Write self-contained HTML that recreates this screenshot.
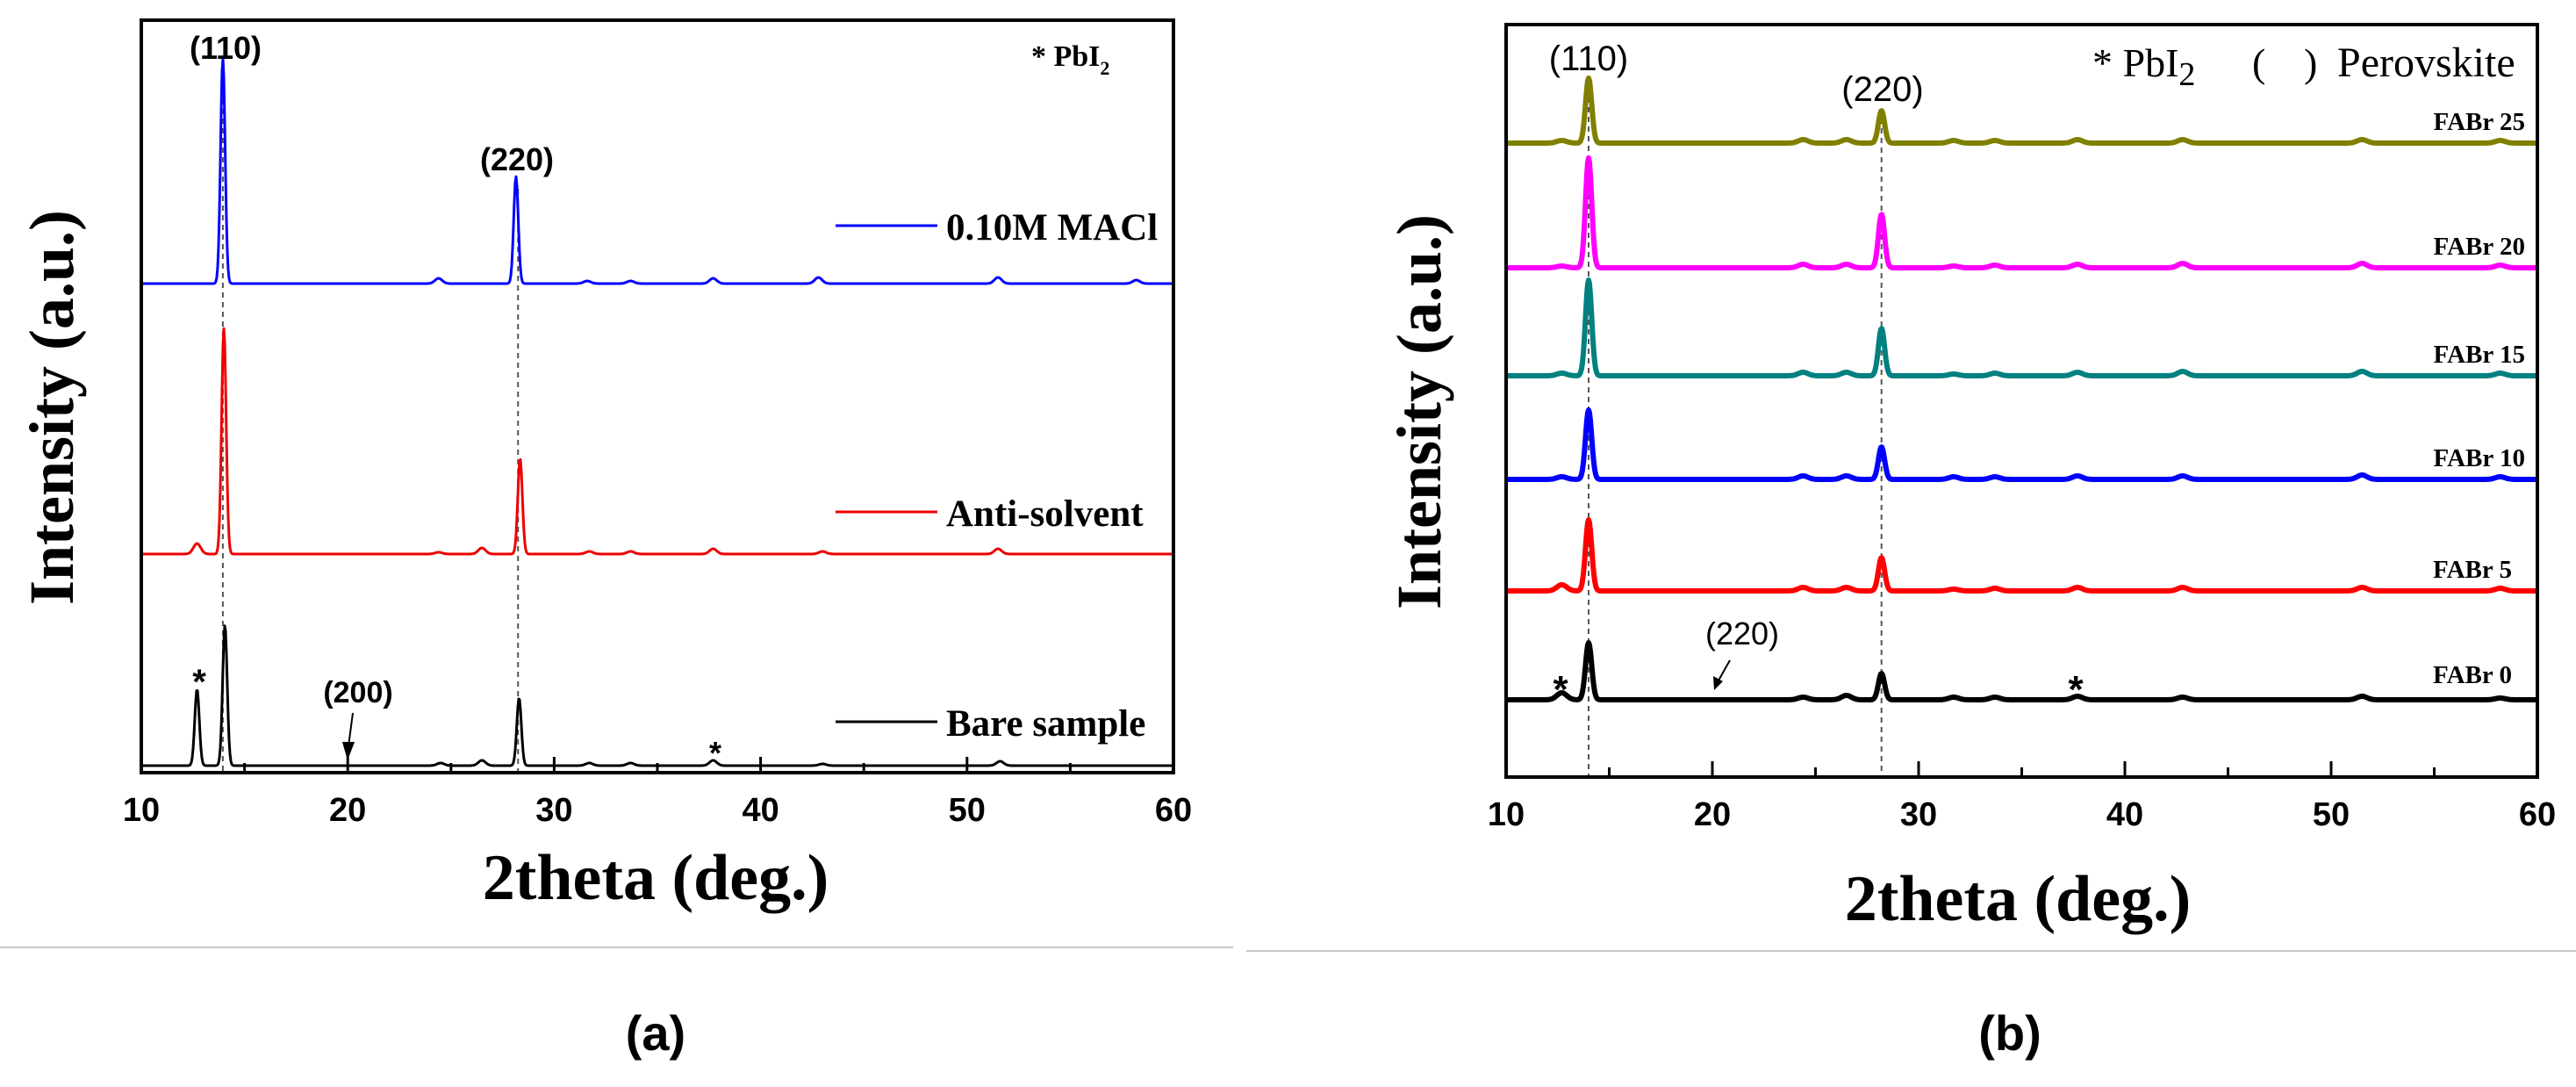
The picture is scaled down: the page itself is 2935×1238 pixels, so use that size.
<!DOCTYPE html>
<html><head><meta charset="utf-8">
<style>
html,body{margin:0;padding:0;background:#fff;}
svg{display:block;}
</style></head>
<body>
<svg id="fig" width="2935" height="1238" viewBox="0 0 2935 1238" xmlns="http://www.w3.org/2000/svg">
  <rect x="0" y="0" width="2935" height="1238" fill="#fff"/>
  <line x1="0" y1="1079" x2="1405" y2="1079" stroke="#c8c8c8" stroke-width="2"/>
  <line x1="1420" y1="1083" x2="2935" y2="1083" stroke="#c8c8c8" stroke-width="2"/>
  <g id="panelA"></g>
  <g id="panelB"></g>
  <text x="747" y="1196" text-anchor="middle" font-family="Liberation Sans, sans-serif" font-weight="bold" font-size="56">(a)</text>
  <text x="2290" y="1196" text-anchor="middle" font-family="Liberation Sans, sans-serif" font-weight="bold" font-size="56">(b)</text>
</svg>
<script>
// ---------- data ----------
const xTicks = [10, 20, 30, 40, 50, 60];
// panel (a): peak positions (deg) and heights (px above baseline)
const aNames = ["0.10M MACl", "Anti-solvent", "Bare sample"];
const aColors = ["#0000ff", "#ee0000", "#000000"];
const aOffsets = [549, 241, 0];
const aPos = [
  [13.95, 24.4, 28.15, 31.6, 33.7, 37.7, 42.8, 51.5, 58.2],
  [12.7, 14.0, 24.4, 26.5, 28.35, 31.7, 33.7, 37.7, 43.0, 51.5],
  [12.7, 14.05, 24.5, 26.5, 28.3, 31.7, 33.7, 37.7, 43.0, 51.6]
];
const aHeights = [
  [257, 6, 122, 3, 3, 6, 7, 7, 4],
  [12, 257, 2, 7, 109, 3, 3, 6, 3, 6],
  [87, 160, 3, 6, 77, 3, 3, 6, 2, 5]
];
// panel (b)
const bNames = ["FABr 25", "FABr 20", "FABr 15", "FABr 10", "FABr 5", "FABr 0"];
const bColors = ["#808000", "#ff00ff", "#008080", "#0000ff", "#ff0000", "#000000"];
const bOffsets = [634, 492, 369, 251, 124, 0];
const bPos = [12.7, 14.0, 24.4, 26.5, 28.2, 31.7, 33.7, 37.7, 42.8, 51.5, 58.2];
const bHeights = [
  [3, 74, 4, 4, 37, 3, 3, 4, 4, 4, 3],
  [2, 125, 4, 4, 61, 2, 3, 4, 5, 5, 3],
  [3, 109, 4, 4, 54, 2, 3, 4, 5, 5, 3],
  [3, 79, 4, 4, 37, 3, 3, 4, 4, 5, 3],
  [7, 81, 4, 4, 38, 2, 3, 4, 4, 4, 3],
  [8, 65, 3, 5, 30, 3, 3, 4, 3, 4, 2]
];

const NS = "http://www.w3.org/2000/svg";
function mk(parent, tag, attrs, text) {
  const e = document.createElementNS(NS, tag);
  for (const k in attrs) e.setAttribute(k, attrs[k]);
  if (text !== undefined) e.textContent = text;
  parent.appendChild(e);
  return e;
}

function drawPanel(g, P) {
  const xs = v => P.L + (v - 10) / 50 * (P.R - P.L);
  P.guides.forEach((gx, i) => {
    const ln = mk(g, "line", {x1: xs(gx), x2: xs(gx), y1: P.guideTop[i], y2: P.B, stroke: "#555", "stroke-width": 2, "stroke-dasharray": "6,5"});
    
    
  });
  P.names.forEach((nm, s) => {
    const base = P.base0 - P.offsets[s];
    const pos = P.pos[s], hts = P.heights[s];
    let d = "";
    for (let px = P.L + 2; px <= P.R - 2; px += 1) {
      const x = 10 + (px - P.L) / (P.R - P.L) * 50;
      let y = 0;
      for (let k = 0; k < pos.length; k++) {
        const sg = hts[k] > 20 ? P.sig : P.sig * 1.6;
        y += hts[k] * Math.exp(-0.5 * Math.pow((x - pos[k]) / sg, 2));
      }
      d += (d ? "L" : "M") + px + "," + (base - y).toFixed(1);
    }
    const path = mk(g, "path", {d: d, fill: "none", stroke: P.colors[s], "stroke-width": P.lw, "stroke-linejoin": "round"});
    
    
  });
  const fr = mk(g, "rect", {x: P.L, y: P.T, width: P.R - P.L, height: P.B - P.T, fill: "none", stroke: "#000", "stroke-width": 4});
  
  
  for (let v = 10; v <= 60; v += 5) {
    const major = v % 10 === 0;
    const t = mk(g, "line", {x1: xs(v), x2: xs(v), y1: P.B, y2: P.B - (major ? 18 : 11), stroke: "#000", "stroke-width": 3});
    
    
  }
  xTicks.forEach(v => {
    const t = mk(g, "text", {x: xs(v), y: P.B + 55, "text-anchor": "middle", "font-family": "Liberation Sans, sans-serif", "font-weight": "bold", "font-size": 38}, String(v));
    
    
  });
}

const A = {L: 161, R: 1337, T: 23, B: 880, base0: 872, sig: 0.11, lw: 3,
  names: aNames, colors: aColors, offsets: aOffsets, pos: aPos, heights: aHeights,
  guides: [13.95, 28.25], guideTop: [80, 215]};
const bPosAll = bNames.map(() => bPos);
const B = {L: 1716, R: 2891, T: 28, B: 885, base0: 797, sig: 0.15, lw: 6,
  names: bNames, colors: bColors, offsets: bOffsets, pos: bPosAll, heights: bHeights,
  guides: [14.0, 28.2], guideTop: [100, 135]};

drawPanel(document.getElementById("panelA"), A);
drawPanel(document.getElementById("panelB"), B);
</script>
<script>
(function(){
  const svg = document.getElementById("fig");
  const html = `
  <g>
    <text x="257" y="67" text-anchor="middle" font-family="Liberation Sans, sans-serif" font-weight="bold" font-size="36">(110)</text>
    <text x="589" y="194" text-anchor="middle" font-family="Liberation Sans, sans-serif" font-weight="bold" font-size="36">(220)</text>
    <text x="1175" y="75" font-family="Liberation Serif, serif" font-weight="bold" font-size="34">* PbI<tspan font-size="22" dy="10">2</tspan></text>
    <text x="408" y="800" text-anchor="middle" font-family="Liberation Sans, sans-serif" font-weight="bold" font-size="34">(200)</text>
    <line x1="402" y1="812" x2="397" y2="850" stroke="#000" stroke-width="2"/>
    <polygon points="390,845 404,845 396,866" fill="#000"/>
    <text x="227" y="790" text-anchor="middle" font-family="Liberation Sans, sans-serif" font-weight="bold" font-size="40">*</text>
    <text x="815" y="870" text-anchor="middle" font-family="Liberation Sans, sans-serif" font-weight="bold" font-size="36">*</text>
    <line x1="952" y1="257" x2="1068" y2="257" stroke="#0000ff" stroke-width="3"/>
    <text x="1078" y="273" font-family="Liberation Serif, serif" font-weight="bold" font-size="43">0.10M MACl</text>
    <line x1="952" y1="583" x2="1068" y2="583" stroke="#ee0000" stroke-width="3"/>
    <text x="1078" y="599" font-family="Liberation Serif, serif" font-weight="bold" font-size="43">Anti-solvent</text>
    <line x1="952" y1="822" x2="1068" y2="822" stroke="#000" stroke-width="3"/>
    <text x="1078" y="838" font-family="Liberation Serif, serif" font-weight="bold" font-size="43">Bare sample</text>
    <text x="747" y="1024" text-anchor="middle" font-family="Liberation Serif, serif" font-weight="bold" font-size="74">2theta (deg.)</text>
    <text transform="translate(83,464) rotate(-90)" text-anchor="middle" font-family="Liberation Serif, serif" font-weight="bold" font-size="72">Intensity (a.u.)</text>
  </g>
  <g>
    <text x="1810" y="80" text-anchor="middle" font-family="Liberation Sans, sans-serif" font-size="40">(110)</text>
    <text x="2145" y="115" text-anchor="middle" font-family="Liberation Sans, sans-serif" font-size="40">(220)</text>
    <text x="2384" y="87" font-family="Liberation Serif, serif" font-size="46">* PbI<tspan font-size="38" dy="10">2</tspan></text>
    <text x="2566" y="87" font-family="Liberation Serif, serif" font-size="46">(</text>
    <text x="2625" y="87" font-family="Liberation Serif, serif" font-size="46">)</text>
    <text x="2663" y="87" font-family="Liberation Serif, serif" font-size="48">Perovskite</text>
    <text x="1985" y="734" text-anchor="middle" font-family="Liberation Sans, sans-serif" font-size="36">(220)</text>
    <line x1="1971" y1="752" x2="1958" y2="775" stroke="#000" stroke-width="2"/>
    <polygon points="1952,770 1963,776 1953,786" fill="#000"/>
    <text x="1778" y="800" text-anchor="middle" font-family="Liberation Sans, sans-serif" font-weight="bold" font-size="44">*</text>
    <text x="2365" y="800" text-anchor="middle" font-family="Liberation Sans, sans-serif" font-weight="bold" font-size="44">*</text>
    <text x="2877" y="148" text-anchor="end" font-family="Liberation Serif, serif" font-weight="bold" font-size="29">FABr 25</text>
    <text x="2877" y="290" text-anchor="end" font-family="Liberation Serif, serif" font-weight="bold" font-size="29">FABr 20</text>
    <text x="2877" y="413" text-anchor="end" font-family="Liberation Serif, serif" font-weight="bold" font-size="29">FABr 15</text>
    <text x="2877" y="531" text-anchor="end" font-family="Liberation Serif, serif" font-weight="bold" font-size="29">FABr 10</text>
    <text x="2862" y="658" text-anchor="end" font-family="Liberation Serif, serif" font-weight="bold" font-size="29">FABr 5</text>
    <text x="2862" y="778" text-anchor="end" font-family="Liberation Serif, serif" font-weight="bold" font-size="29">FABr 0</text>
    <text x="2299" y="1048" text-anchor="middle" font-family="Liberation Serif, serif" font-weight="bold" font-size="74">2theta (deg.)</text>
    <text transform="translate(1641,469) rotate(-90)" text-anchor="middle" font-family="Liberation Serif, serif" font-weight="bold" font-size="72">Intensity (a.u.)</text>
  </g>`;
  svg.insertAdjacentHTML("beforeend", html);
})();
</script>
</body></html>
